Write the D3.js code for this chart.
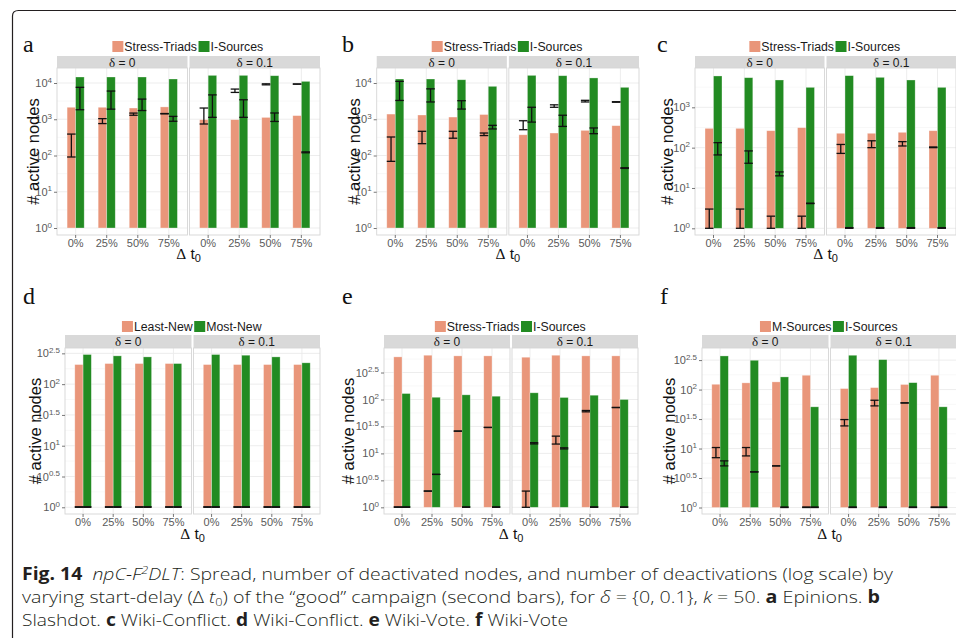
<!DOCTYPE html>
<html><head><meta charset="utf-8">
<script src="https://cdn.jsdelivr.net/npm/d3@7"></script>
<style>body{margin:0;background:#fff;} svg{display:block;}</style>
</head><body>
<svg id="chart" width="956" height="638"></svg>
<script>
// ---------------- DATA ----------------
const categories = ["0%", "25%", "50%", "75%"];
const facetDeltas = ["0", "0.1"];
const panelLetters = ["a", "b", "c", "d", "e", "f"];
const legendStressI = ["Stress-Triads", "I-Sources"];
const legendLeastMost = ["Least-New", "Most-New"];
const legendMI = ["M-Sources", "I-Sources"];
const yTickExp4 = ["0", "1", "2", "3", "4"];
const yTickExp3 = ["0", "1", "2", "3"];
const yTickExpHalf = ["0", "0.5", "1", "1.5", "2", "2.5"];

// values: first 4 = delta 0 (0%,25%,50%,75%), last 4 = delta 0.1
// (a) Epinions
const aFirst  = [2140, 2140, 2040, 2190, 975, 975, 1125, 1260];
const aSecond = [14650, 14650, 14650, 12900, 16250, 16250, 15900, 11100];
const aFirstErr  = [[91,390],[760,1040],[1290,1480],[1410,1440],[740,2040],[5500,6800],[8900,9500],[9300,9400]];
const aSecondErr = [[1830,7600],[1900,6000],[1740,3600],[880,1200],[1130,4700],[1130,3450],[870,1490],[119,126]];
// (b) Slashdot
const bFirst  = [1390, 1310, 1150, 1350, 373, 417, 493, 665];
const bSecond = [12900, 12900, 12300, 8100, 16250, 15900, 13800, 7600];
const bFirstErr  = [[69,324],[212,465],[300,465],[355,417],[515,910],[2140,2500],[3000,3330],[2950,3050]];
const bSecondErr = [[3300,11100],[3000,6900],[1910,3250],[540,680],[835,2140],[635,1290],[400,575],[44,46]];
// (c) Wiki-Conflict
const cFirst  = [301, 301, 263, 313, 227, 227, 240, 263];
const cSecond = [5990, 5430, 4760, 3130, 6100, 5540, 4760, 3130];
const cFirstErr  = [[1,3],[1,3],[1,2],[1,2],[72,120],[100,148],[110,141],[100,104]];
const cSecondErr = [[66,133],[41,83],[20,25],[4.1,4.2],[1,1.04],[1,1.04],[1,1.04],[1,1.04]];
// (d) Wiki-Conflict
const dFirst  = [208, 216, 216, 216, 208, 208, 208, 208];
const dSecond = [303, 288, 277, 216, 303, 295, 277, 222];
const dFirstErr  = [[1,1.02],[1,1.02],[1,1.02],[1,1.02],[1,1.02],[1,1.02],[1,1.02],[1,1.02]];
const dSecondErr = [[1,1.02],[1,1.02],[1,1.02],[1,1.02],[1,1.02],[1,1.02],[1,1.02],[1,1.02]];
// (e) Wiki-Vote
const eFirst  = [617, 662, 644, 644, 608, 662, 644, 644];
const eSecond = [129, 110, 122, 115, 133, 109, 120, 100];
const eFirstErr  = [[1,1.02],[2,2],[25.9,25.9],[30.3,30.3],[1,2],[14.9,20.9],[59,62.5],[71,71]];
const eSecondErr = [[1,1.02],[4.08,4.08],[1,1.02],[1,1.02],[15,15.8],[12.1,12.7],[1,1.02],[1,1.02]];
// (f) Wiki-Vote
const fFirst  = [123, 130, 135, 175, 104, 108, 122, 175];
const fSecond = [372, 314, 164, 51, 382, 322, 131, 51];
const fFirstErr  = [[7.0,10.4],[7.5,10.4],[5.08,5.08],[1,1.02],[24.2,31],[52.9,65.9],[59.4,59.4],[1,1.02]];
const fSecondErr = [[5.08,6.18],[4.02,4.02],[1,1.02],[1,1.02],[1,1.02],[1,1.02],[1,1.02],[1,1.02]];

// ---------------- LAYOUT ----------------
const ORANGE = "#e9967a", GREEN = "#228b22";
const rowTop = {strip: 56, y0: 68, y1: 235, legY: 46.5, letterY: 52, titleY: 259};
const rowBot = {strip: 335, y0: 348, y1: 514, legY: 326.5, letterY: 304, titleY: 539};

const panels = [
  {letter: panelLetters[0], row: rowTop, x0: 57, x1: 320, lo: -0.193, hi: 4.414, ticks: yTickExp4, legend: legendStressI, s1: aFirst, s2: aSecond, e1: aFirstErr, e2: aSecondErr, letterX: 23, titleX: 33},
  {letter: panelLetters[1], row: rowTop, x0: 376.7, x1: 639, lo: -0.193, hi: 4.414, ticks: yTickExp4, legend: legendStressI, s1: bFirst, s2: bSecond, e1: bFirstErr, e2: bSecondErr, letterX: 342, titleX: 354},
  {letter: panelLetters[2], row: rowTop, x0: 695, x1: 956, lo: -0.166, hi: 3.975, ticks: yTickExp3, legend: legendStressI, s1: cFirst, s2: cSecond, e1: cFirstErr, e2: cSecondErr, letterX: 657, titleX: 667},
  {letter: panelLetters[3], row: rowBot, x0: 65, x1: 320, lo: -0.109, hi: 2.587, ticks: yTickExpHalf, legend: legendLeastMost, s1: dFirst, s2: dSecond, e1: dFirstErr, e2: dSecondErr, letterX: 23, titleX: 35},
  {letter: panelLetters[4], row: rowBot, x0: 384, x1: 638, lo: -0.124, hi: 2.955, ticks: yTickExpHalf, legend: legendStressI, s1: eFirst, s2: eSecond, e1: eFirstErr, e2: eSecondErr, letterX: 342, titleX: 348},
  {letter: panelLetters[5], row: rowBot, x0: 702, x1: 957, lo: -0.11, hi: 2.705, ticks: yTickExpHalf, legend: legendMI, s1: fFirst, s2: fSecond, e1: fFirstErr, e2: fSecondErr, letterX: 660, titleX: 669}
];

const svg = d3.select("#chart");
svg.append("rect").attr("width", 956).attr("height", 638).attr("fill", "#fff");
const SANS = "'Liberation Sans', Arial, Helvetica, sans-serif";
const SERIF = "'Liberation Serif', 'DejaVu Serif', serif";

function drawPanel(p) {
  const g = svg.append("g").attr("font-family", SANS);
  const r = p.row;
  const gap = 2;
  const fw = (p.x1 - p.x0 - gap) / 2;
  const y = d3.scaleLog().domain([Math.pow(10, p.lo), Math.pow(10, p.hi)]).range([r.y1, r.y0]);
  const tickVals = p.ticks.map(e => Math.pow(10, +e));
  const step = (+p.ticks[1]) - (+p.ticks[0]);
  const minorVals = [];
  for (let e = (+p.ticks[0]) - step / 2; e <= p.hi; e += step) if (e >= p.lo) minorVals.push(Math.pow(10, e));

  // panel letter
  g.append("text").attr("x", p.letterX).attr("y", r.letterY)
    .attr("font-family", SERIF).attr("font-size", 24).attr("fill", "#111").text(p.letter);

  // legend
  const leg = g.append("g");
  let lx = 0;
  p.legend.forEach((name, i) => {
    leg.append("rect").attr("x", lx).attr("y", r.legY - 5.5).attr("width", 11).attr("height", 11)
      .attr("fill", i === 0 ? ORANGE : GREEN);
    lx += 12;
    const t = leg.append("text").attr("x", lx).attr("y", r.legY).attr("dy", "0.36em")
      .attr("font-size", 12.3).attr("fill", "#1a1a1a").text(name);
    lx += t.node().getComputedTextLength() + 1.5;
  });
  leg.attr("transform", `translate(${(p.x0 + p.x1) / 2 - lx / 2},0)`);

  facetDeltas.forEach((fd, fi) => {
    const fx0 = p.x0 + fi * (fw + gap);
    const x = d3.scaleBand().domain(categories).range([fx0, fx0 + fw]).paddingInner(0.45).paddingOuter(0.325);
    const xs = d3.scaleBand().domain([0, 1]).range([0, x.bandwidth()]);
    const fg = g.append("g");
    fg.append("rect").attr("x", fx0).attr("y", r.y0).attr("width", fw).attr("height", r.y1 - r.y0).attr("fill", "#fff");
    // grid
    fg.selectAll(".mn").data(minorVals).join("line")
      .attr("x1", fx0).attr("x2", fx0 + fw).attr("y1", d => y(d)).attr("y2", d => y(d))
      .attr("stroke", "#f4f4f4").attr("stroke-width", 0.6);
    fg.selectAll(".mj").data(tickVals).join("line")
      .attr("x1", fx0).attr("x2", fx0 + fw).attr("y1", d => y(d)).attr("y2", d => y(d))
      .attr("stroke", "#ebebeb").attr("stroke-width", 0.9);
    fg.selectAll(".vg").data(categories).join("line")
      .attr("x1", d => x(d) + x.bandwidth() / 2).attr("x2", d => x(d) + x.bandwidth() / 2)
      .attr("y1", r.y0).attr("y2", r.y1).attr("stroke", "#ebebeb").attr("stroke-width", 0.9);
    // strip
    fg.append("rect").attr("x", fx0).attr("y", r.strip).attr("width", fw).attr("height", r.y0 - r.strip)
      .attr("fill", "#d9d9d9");
    const st = fg.append("text").attr("x", fx0 + fw / 2).attr("y", (r.strip + r.y0) / 2 + 0.5).attr("dy", "0.35em")
      .attr("text-anchor", "middle").attr("font-size", 12).attr("fill", "#1a1a1a");
    st.append("tspan").attr("font-family", SERIF).attr("font-size", 13).text("δ");
    st.append("tspan").text(" = " + fd);

    // bars
    const rows = categories.map((c, ci) => ({c, v1: p.s1[fi * 4 + ci], v2: p.s2[fi * 4 + ci], e1: p.e1[fi * 4 + ci], e2: p.e2[fi * 4 + ci]}));
    const bars = [];
    rows.forEach(rw => {
      bars.push({c: rw.c, s: 0, v: rw.v1, e: rw.e1});
      bars.push({c: rw.c, s: 1, v: rw.v2, e: rw.e2});
    });
    fg.selectAll(".bar").data(bars).join("rect")
      .attr("x", d => x(d.c) + xs(d.s)).attr("width", xs.bandwidth())
      .attr("y", d => y(d.v)).attr("height", d => y(1) - y(d.v))
      .attr("fill", d => d.s === 0 ? ORANGE : GREEN)
      .attr("stroke", "#fff").attr("stroke-opacity", 0.45).attr("stroke-width", 0.7);
    // error bars
    const eb = fg.selectAll(".eb").data(bars).join("g").attr("stroke", "#111").attr("stroke-width", 1.3);
    const cx = d => x(d.c) + xs(d.s) + xs.bandwidth() / 2;
    const hw = xs.bandwidth() / 2;
    eb.append("line").attr("x1", cx).attr("x2", cx).attr("y1", d => y(d.e[0])).attr("y2", d => y(d.e[1]));
    eb.append("line").attr("x1", d => cx(d) - hw).attr("x2", d => cx(d) + hw).attr("y1", d => y(d.e[0])).attr("y2", d => y(d.e[0]));
    eb.append("line").attr("x1", d => cx(d) - hw).attr("x2", d => cx(d) + hw).attr("y1", d => y(d.e[1])).attr("y2", d => y(d.e[1]));
    // border
    fg.append("rect").attr("x", fx0).attr("y", r.y0).attr("width", fw).attr("height", r.y1 - r.y0)
      .attr("fill", "none").attr("stroke", "#d6d6d6").attr("stroke-width", 0.9);
    // x axis
    const xa = fg.append("g").attr("transform", `translate(0,${r.y1})`)
      .call(d3.axisBottom(x).tickSize(3).tickPadding(1));
    xa.select(".domain").remove();
    xa.selectAll(".tick line").attr("stroke", "#555").attr("stroke-width", 0.8);
    xa.selectAll(".tick text").attr("font-size", 11).attr("fill", "#5a5a5a").attr("font-family", SANS);
  });

  // y axis
  const ya = g.append("g").attr("transform", `translate(${p.x0},0)`)
    .call(d3.axisLeft(y).tickValues(tickVals).tickSize(3).tickPadding(2).tickFormat(() => ""));
  ya.select(".domain").remove();
  ya.selectAll(".tick line").attr("stroke", "#555").attr("stroke-width", 0.8);
  ya.selectAll(".tick text").each(function(d, i) {
    const t = d3.select(this).attr("font-size", 11).attr("fill", "#5a5a5a").attr("font-family", SANS);
    t.append("tspan").text("10");
    t.append("tspan").attr("font-size", 8).attr("dy", "-0.55em").text(p.ticks[i]);
  });

  // axis titles
  g.append("text").attr("transform", `translate(${p.titleX},${(r.y0 + r.y1) / 2}) rotate(-90)`)
    .attr("dy", "0.35em").attr("text-anchor", "middle").attr("font-size", 16.5).attr("fill", "#111")
    .text("# active nodes");
  const xt = g.append("text").attr("x", (p.x0 + p.x1) / 2).attr("y", r.titleY)
    .attr("text-anchor", "middle").attr("font-size", 15.5).attr("fill", "#111");
  xt.append("tspan").attr("font-family", SERIF).text("Δ");
  xt.append("tspan").text(" t");
  xt.append("tspan").attr("font-size", 11).attr("dy", "0.3em").text("0");
}

panels.forEach(drawPanel);

// frame
svg.append("path").attr("d", "M12.5,640 L12.5,16 Q12.5,10.5 18.5,10.5 L960,10.5")
  .attr("fill", "none").attr("stroke", "#231f20").attr("stroke-width", 1.2);

// caption
const CAP = "'Open Sans', 'Noto Sans', sans-serif";
const cap = svg.append("g").attr("font-family", CAP).attr("font-size", 17).attr("font-weight", 300).attr("fill", "#231f20");
function capLine(yy, len, parts) {
  const t = cap.append("text").attr("x", 22).attr("y", yy).attr("textLength", len).attr("lengthAdjust", "spacingAndGlyphs");
  parts.forEach(pt => {
    const s = t.append("tspan").text(pt.t);
    if (pt.b) s.attr("font-weight", "bold");
    if (pt.i) s.attr("font-style", "italic");
    if (pt.dy) s.attr("dy", pt.dy);
    if (pt.fs) s.attr("font-size", pt.fs);
  });
}
capLine(580, 871, [
  {t: "Fig. 14", b: true}, {t: "\u00a0\u00a0npC-F", i: true}, {t: "2", i: true, fs: 11, dy: "-0.55em"},
  {t: "DLT", i: true, dy: "0.35em"}, {t: ": Spread, number of deactivated nodes, and number of deactivations (log scale) by"}
]);
capLine(603, 858, [
  {t: "varying start-delay (\u0394 "}, {t: "t", i: true}, {t: "0", fs: 11, dy: "0.25em"},
  {t: ") of the \u201cgood\u201d campaign (second bars), for ", dy: "-0.15em"}, {t: "\u03b4", i: true}, {t: " = {0, 0.1}, "},
  {t: "k", i: true}, {t: " = 50. "}, {t: "a", b: true}, {t: " Epinions. "}, {t: "b", b: true}
]);
capLine(626, 546, [
  {t: "Slashdot. "}, {t: "c", b: true}, {t: " Wiki-Conflict. "}, {t: "d", b: true}, {t: " Wiki-Conflict. "},
  {t: "e", b: true}, {t: " Wiki-Vote. "}, {t: "f", b: true}, {t: " Wiki-Vote"}
]);
</script>
</body></html>
